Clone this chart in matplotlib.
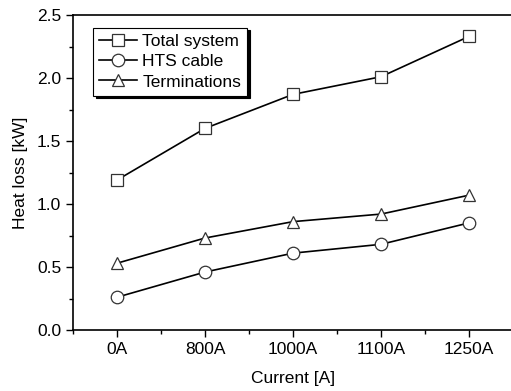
import matplotlib
matplotlib.use("Agg")
import matplotlib.pyplot as plt
from matplotlib.ticker import MultipleLocator

plt.rcParams['font.family'] = ['Liberation Sans', 'DejaVu Sans']

categories = ["0A", "800A", "1000A", "1100A", "1250A"]
total_system = [1.19, 1.60, 1.87, 2.01, 2.33]
hts_cable = [0.26, 0.46, 0.61, 0.68, 0.85]
terminations = [0.53, 0.73, 0.86, 0.92, 1.07]

fig = plt.figure(figsize=(5.11, 3.91), dpi=100)
ax = fig.add_axes([73/511, 1-330/391, 440/511, 315/391])

x = list(range(len(categories)))
kw = dict(color='black', lw=1.2, mfc='white', mec='#333333', ms=9, mew=0.9)
ax.plot(x, total_system, marker='s', label='Total system', **kw)
ax.plot(x, hts_cable, marker='o', label='HTS cable', **kw)
ax.plot(x, terminations, marker='^', label='Terminations', **kw)

ax.set_xlim(-0.5, 4.5)
ax.set_ylim(0, 2.5)
ax.set_xticks(x)
ax.set_xticklabels(categories)
ax.xaxis.set_minor_locator(MultipleLocator(0.5))
ax.yaxis.set_major_locator(MultipleLocator(0.5))
ax.yaxis.set_minor_locator(MultipleLocator(0.25))
ax.yaxis.set_major_formatter(matplotlib.ticker.FormatStrFormatter('%.1f'))
ax.tick_params(which='major', direction='out', length=5, width=1, labelsize=12.5, colors='black')
ax.tick_params(which='minor', direction='out', length=3, width=1)
for s in ax.spines.values():
    s.set_linewidth(1.2)
ax.set_xlabel('Current [A]', fontsize=12.5, labelpad=10)
ax.set_ylabel('Heat loss [kW]', fontsize=12.5, labelpad=6)

leg = ax.legend(loc='upper left', bbox_to_anchor=(0.045, 0.96), fontsize=12.5,
                frameon=True, fancybox=False, shadow={'color': 'black', 'alpha': 1},
                handlelength=2.2, handletextpad=0.3, borderpad=0.35, labelspacing=0.3,
                borderaxespad=0)
leg.get_frame().set_edgecolor('black')
leg.get_frame().set_linewidth(0.8)

fig.savefig('out.png', dpi=100)
